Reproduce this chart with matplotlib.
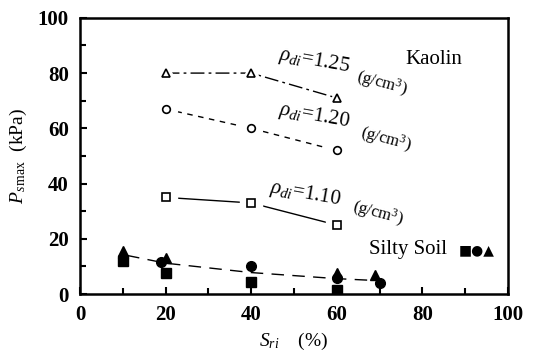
import matplotlib
matplotlib.use("Agg")
import matplotlib.pyplot as plt
from matplotlib.ticker import MultipleLocator

plt.rcParams['font.family'] = ['Liberation Serif', 'DejaVu Sans']
plt.rcParams['mathtext.fontset'] = 'custom'
plt.rcParams['mathtext.rm'] = 'Liberation Serif'
plt.rcParams['mathtext.it'] = 'Liberation Serif:italic'

# Kaolin series
k_x = [20, 40, 60]
k125 = [80, 80, 71]
k120 = [67, 60, 52]
k110 = [35, 33, 25]

# Silty soil series
s_sq_x = [10, 20, 40, 60]
s_sq_y = [12, 7.5, 4.5, 1.5]
s_ci_x = [10, 19, 40, 60, 70]
s_ci_y = [13, 11.5, 10, 6, 4]
s_tr_x = [10, 20, 60, 69]
s_tr_y = [15.5, 13, 7.5, 7]
trend_x = [11, 20, 40, 60, 68]
trend_y = [14, 11.2, 7.8, 5.6, 5]

fig = plt.figure(figsize=(5.33, 3.64), dpi=100)
ax = fig.add_axes([0.150, 0.192, 0.803, 0.759])

ax.plot(k_x, k125, color='black', lw=1, linestyle=(0, (10, 3, 2, 3)))
ax.plot(k_x, k120, color='black', lw=1, linestyle=(0, (4, 4)))
ax.plot(k_x, k110, color='black', lw=1, linestyle='-')
ax.plot(trend_x, trend_y, color='black', lw=1, linestyle=(0, (9, 6)))

ms = 5.5
for ys, mk in [(k125, '^'), (k120, 'o'), (k110, 's')]:
    ax.plot(k_x, ys, linestyle='none', marker=mk, ms=16, mfc='white', mec='white')
    ax.plot(k_x, ys, linestyle='none', marker=mk, ms=ms, mfc='white', mec='black', mew=1.2)

ax.plot(s_sq_x, s_sq_y, linestyle='none', marker='s', ms=7, color='black')
ax.plot(s_ci_x, s_ci_y, linestyle='none', marker='o', ms=7, color='black')
ax.plot(s_tr_x, s_tr_y, linestyle='none', marker='^', ms=7, color='black')

ax.set_xlim(0, 100)
ax.set_ylim(0, 100)
ax.xaxis.set_major_locator(MultipleLocator(20))
ax.xaxis.set_minor_locator(MultipleLocator(10))
ax.yaxis.set_major_locator(MultipleLocator(20))
ax.yaxis.set_minor_locator(MultipleLocator(10))
ax.tick_params(which='both', direction='in', width=1.5, labelsize=15)
ax.tick_params(which='major', length=5, pad=8)
ax.tick_params(which='minor', length=4)
ax.tick_params(top=False, right=False)
for lab in ax.get_xticklabels() + ax.get_yticklabels():
    lab.set_fontweight('bold')
for sp in ax.spines.values():
    sp.set_linewidth(1.8)

ax.set_xlabel(r'$S_{ri}$    (%)', fontsize=14, labelpad=4)
ax.set_ylabel(r'$P_{s\,\mathrm{max}}$  (kPa)', fontsize=14, labelpad=6)

tkw = dict(fontsize=15, color='black')
ax.text(46, 78, r'$\rho_{di}$=$1.25$', rotation=-10, ha='left', va='bottom', **tkw)
ax.text(64, 70, '(g/cm$^3$)', rotation=-15, ha='left', va='bottom', fontsize=12)
ax.text(46, 58, r'$\rho_{di}$=$1.20$', rotation=-10, ha='left', va='bottom', **tkw)
ax.text(65, 50, '(g/cm$^3$)', rotation=-15, ha='left', va='bottom', fontsize=12)
ax.text(44, 30, r'$\rho_{di}$=$1.10$', rotation=-10, ha='left', va='bottom', **tkw)
ax.text(63, 23, '(g/cm$^3$)', rotation=-15, ha='left', va='bottom', fontsize=12)

ax.text(76, 85, 'Kaolin', fontsize=15, ha='left', va='center')
ax.text(67.5, 16, 'Silty Soil', fontsize=15, ha='left', va='center')
ax.text(88.5, 16, '■●▲', fontsize=10, ha='left', va='center', family=['DejaVu Sans'])

fig.savefig('out.png', dpi=100)
